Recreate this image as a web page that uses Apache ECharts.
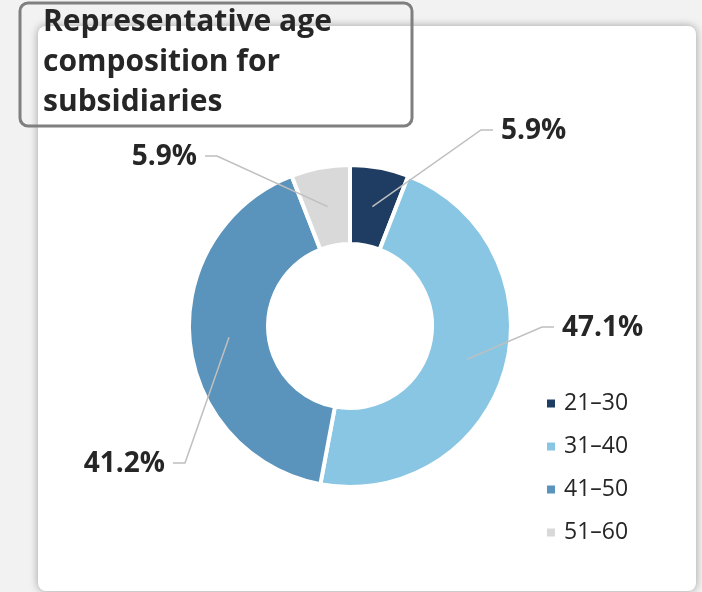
<!DOCTYPE html>
<html><head><meta charset="utf-8">
<script src="https://cdn.jsdelivr.net/npm/echarts@6.0.0/dist/echarts.min.js"></script>
<style>html,body{margin:0;padding:0;background:#f2f2f2}#c{width:702px;height:592px}</style>
</head><body><div id="c"></div>
<script>
// ---- data ----
const titleText = 'Representative age\ncomposition for\nsubsidiaries';
const categories = ['21–30', '31–40', '41–50', '51–60'];
const shares = [5.9, 47.1, 41.2, 5.9];
const sliceColors = ['#1f3d63', '#88c6e4', '#5a93bb', '#d9d9d9'];

// ---- layout ----
const cx = 350, cy = 326, rIn = 82, rOut = 161;
const labelSpots = [
  { dx: 151, dy: -195, align: 'left' },
  { dx: 212, dy: 2, align: 'left' },
  { dx: -185, dy: 138, align: 'right' },
  { dx: -153, dy: -169, align: 'right' }
];
const total = shares.reduce((a, b) => a + b, 0);
const midAngles = [];
let cum = 0;
shares.forEach(v => { const m = cum + v / 2; midAngles.push((90 - m / total * 360) * Math.PI / 180); cum += v; });
const rMid = (rIn + rOut) / 2, gap = 8, seg = 12;
const pieData = categories.map((n, i) => ({ name: n, value: shares[i] }));

const chart = echarts.init(document.getElementById('c'), null, { renderer: 'canvas' });
chart.setOption({
  animation: false,
  backgroundColor: '#f2f2f2',
  color: sliceColors,
  graphic: [
    { type: 'rect', z: -100, shape: { x: 38, y: 26, width: 658, height: 565, r: 8 },
      style: { fill: '#ffffff', shadowBlur: 8, shadowColor: 'rgba(0,0,0,0.35)' } },
    { type: 'rect', z: 100, shape: { x: 20, y: 3, width: 392, height: 123, r: 8 },
      style: { fill: 'transparent', stroke: '#7f7f7f', lineWidth: 3 } }
  ],
  title: {
    text: titleText, left: 43, top: 2, padding: 0,
    textStyle: { fontFamily: 'Open Sans', fontWeight: 'bold', fontSize: 30, lineHeight: 40, color: '#262626' }
  },
  legend: {
    orient: 'vertical', left: 545, top: 392, padding: 0,
    data: categories, icon: 'rect', itemWidth: 10, itemHeight: 10, itemGap: 20,
    selectedMode: false,
    textStyle: { fontFamily: 'Open Sans', fontSize: 23, lineHeight: 23, color: '#262626', padding: [0, 0, 0, 3] }
  },
  series: [{
    type: 'pie', z: 2, center: [cx, cy], radius: [rIn, rOut], startAngle: 90, clockwise: true,
    emphasis: { disabled: true }, silent: true,
    itemStyle: { borderColor: '#ffffff', borderWidth: 4 },
    data: pieData,
    label: { show: false }, labelLine: { show: false }
  }, {
    type: 'pie', z: 5, center: [cx, cy], radius: [rIn, rOut], startAngle: 90, clockwise: true,
    avoidLabelOverlap: false, emphasis: { disabled: true }, silent: true, legendHoverLink: false,
    itemStyle: { color: 'rgba(0,0,0,0)', borderWidth: 0 },
    data: pieData,
    label: {
      show: true, position: 'outside',
      formatter: p => p.value.toFixed(1) + '%',
      fontFamily: 'Open Sans', fontWeight: 'bold', fontSize: 28, color: '#262626'
    },
    labelLine: { show: true, smooth: false, lineStyle: { color: '#bfbfbf', width: 1.5 } },
    labelLayout: function (p) {
      const i = p.dataIndex, s = labelSpots[i], a = midAngles[i];
      const sx = cx + rMid * Math.cos(a), sy = cy - rMid * Math.sin(a);
      const tx = cx + s.dx, ty = cy + s.dy;
      const dir = s.align === 'left' ? -1 : 1;
      return {
        x: tx, y: ty, align: s.align, verticalAlign: 'middle',
        labelLinePoints: [[sx, sy], [tx + dir * (gap + seg), ty - 1], [tx + dir * gap, ty - 1]]
      };
    }
  }]
});
</script></body></html>
